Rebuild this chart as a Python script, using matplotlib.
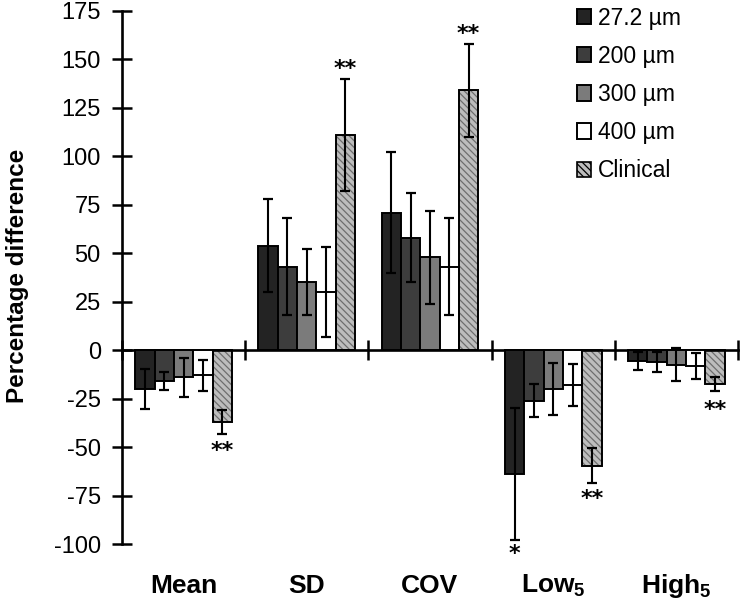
import numpy as np
import matplotlib
matplotlib.use('Agg')
import matplotlib.pyplot as plt
import matplotlib.transforms as mtransforms
from matplotlib.patches import Patch

plt.rcParams['font.family'] = ['Liberation Sans', 'DejaVu Sans']
plt.rcParams['mathtext.fontset'] = 'custom'
plt.rcParams['mathtext.rm'] = 'Liberation Sans'
plt.rcParams['mathtext.bf'] = 'Liberation Sans:bold'
plt.rcParams['axes.unicode_minus'] = False
plt.rcParams['hatch.linewidth'] = 0.9
plt.rcParams['hatch.color'] = '#6e6e6e'

# data
categories = ['Mean', 'SD', 'COV', r'Low$_{\mathbf{5}}$', r'High$_{\mathbf{5}}$']
series = ['27.2 \u00b5m', '200 \u00b5m', '300 \u00b5m', '400 \u00b5m', 'Clinical']
v_272 = [-20, 54, 71, -64, -5.5]
v_200 = [-16, 43, 58, -26, -6]
v_300 = [-14, 35, 48, -20, -7.5]
v_400 = [-13, 30, 43, -18, -8]
v_clin = [-37, 111, 134, -59.5, -17.5]
e_272 = [10.5, 24, 31, 34, 4.6]
e_200 = [4.7, 25, 23, 8.7, 5]
e_300 = [10, 17, 24, 13.5, 8.5]
e_400 = [8, 23, 25, 11, 6.8]
e_clin = [6.4, 29, 24, 9, 3.8]
# significance marks: (category, series, text, y)
stars = [(0, 4, '**', -52), (1, 4, '**', 145), (2, 4, '**', 163),
         (3, 0, '*', -105), (3, 4, '**', -77), (4, 4, '**', -31)]

values = [v_272, v_200, v_300, v_400, v_clin]
errors = [e_272, e_200, e_300, e_400, e_clin]
colors = ['#232323', '#3d3d3d', '#7b7b7b', '#ffffff', '#bdbdbd']

fig = plt.figure(figsize=(7.42, 6.04), dpi=100)
ax = fig.add_axes([0.1644, 0.0993, 0.8302, 0.8825])

x = np.arange(len(categories))
w = 0.157
ekw = dict(ecolor='black', elinewidth=1.5, capsize=3.3, capthick=1.6, zorder=4)
handles = []
for j in range(5):
    xpos = x + (j - 2) * w
    if j == 4:
        ax.bar(xpos, values[j], w, color=colors[j], edgecolor='#6e6e6e',
               hatch='\\\\\\\\\\', linewidth=0, zorder=2)
        ax.bar(xpos, values[j], w, facecolor='none', edgecolor='black',
               linewidth=1.4, yerr=errors[j], error_kw=ekw, zorder=3)
        h = Patch(facecolor=colors[j], edgecolor='black', linewidth=1.2,
                  hatch='\\\\\\\\\\')
    else:
        h = ax.bar(xpos, values[j], w, color=colors[j], edgecolor='black',
                   linewidth=1.4, yerr=errors[j], error_kw=ekw, zorder=3)
    handles.append(h)

for ci, sj, txt, yy in stars:
    ax.text(x[ci] + (sj - 2) * w, yy, txt, ha='center', va='center',
            fontsize=16, fontweight='bold', family='DejaVu Sans')

ax.set_xlim(-0.5, 4.5)
ax.set_ylim(-100, 175)
ax.set_yticks(np.arange(-100, 176, 25))
ax.tick_params(axis='y', direction='inout', length=14.5, width=1.8,
               labelsize=17, pad=8)
ax.spines['left'].set_linewidth(1.9)
ax.spines['bottom'].set_position(('data', 0))
ax.spines['bottom'].set_linewidth(1.9)
ax.spines['top'].set_visible(False)
ax.spines['right'].set_visible(False)
ax.set_xticks(np.arange(-0.5, 4.6, 1.0))
ax.set_xticklabels([])
ax.tick_params(axis='x', direction='inout', length=15, width=1.8)

trans = mtransforms.blended_transform_factory(ax.transData, ax.transAxes)
for i, c in enumerate(categories):
    ax.text(x[i], -0.079, c, transform=trans, ha='center', va='center',
            fontsize=19, fontweight='bold')

ax.set_ylabel('Percentage difference', fontsize=17.5, fontweight='bold')
ax.yaxis.set_label_coords(-0.151, 0.503)

ax.legend(handles, series, loc='upper left', bbox_to_anchor=(0.738, 1.008),
          frameon=False, fontsize=16.5, handlelength=0.65, handleheight=0.65,
          handletextpad=0.3, labelspacing=0.66, borderpad=0, borderaxespad=0)

fig.savefig('out.png', dpi=100)
